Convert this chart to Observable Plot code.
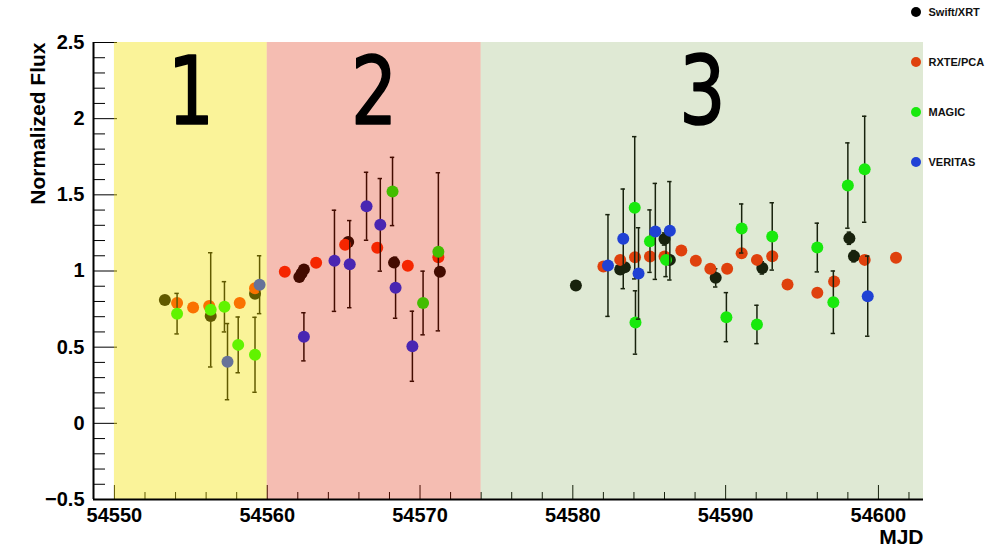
<!DOCTYPE html>
<html>
<head>
<meta charset="utf-8">
<script src="https://cdn.jsdelivr.net/npm/d3@7"></script>
<script src="https://cdn.jsdelivr.net/npm/@observablehq/plot@0.6"></script>
<style>
  body { margin: 0; background: #fff; }
  #wrap { position: relative; width: 1003px; height: 554px; font-family: "Liberation Sans", Arial, Helvetica, sans-serif; }
  #legend .li { position: absolute; display: flex; align-items: center; font-weight: bold; font-size: 11px; color: #111; white-space: nowrap; }
  #legend .d { width: 10px; height: 10px; border-radius: 50%; display: inline-block; margin-right: 8px; }
</style>
</head>
<body>
<div id="wrap"><div id="chart"></div><div id="legend"></div></div>
<script>
// ---------------- data ----------------
const instruments = ["Swift/XRT", "RXTE/PCA", "MAGIC", "VERITAS"];

const swiftMJD  = [54553.3, 54556.3, 54559.2, 54562.1, 54562.25, 54562.4, 54565.3, 54568.3, 54571.3, 54580.2, 54583.1, 54583.4, 54586.0, 54586.35, 54589.35, 54592.4, 54598.1, 54598.4];
const swiftFlux = [0.81, 0.705, 0.85, 0.96, 0.985, 1.01, 1.19, 1.055, 0.995, 0.905, 1.01, 1.025, 1.21, 1.073, 0.955, 1.02, 1.215, 1.097];
const swiftErr  = [0, 0.02, 0.02, 0.02, 0.02, 0.02, 0.02, 0.02, 0, 0, 0.02, 0.02, 0.04, 0.03, 0.06, 0.04, 0.04, 0.037];

const rxteMJD  = [54554.1, 54555.15, 54556.2, 54558.2, 54559.2, 54561.15, 54563.2, 54565.1, 54567.2, 54569.2, 54571.2, 54582.0, 54583.1, 54584.07, 54585.05, 54586.0, 54587.1, 54588.05, 54589.0, 54590.1, 54591.05, 54592.05, 54593.05, 54594.05, 54596.0, 54597.1, 54599.1, 54601.15];
const rxteFlux = [0.79, 0.76, 0.77, 0.79, 0.887, 0.995, 1.054, 1.172, 1.152, 1.034, 1.09, 1.03, 1.073, 1.09, 1.095, 1.095, 1.135, 1.067, 1.014, 1.014, 1.117, 1.073, 1.097, 0.911, 0.857, 0.931, 1.073, 1.087];
const rxteErr  = [0, 0, 0, 0, 0, 0, 0, 0, 0, 0.02, 0, 0, 0, 0, 0, 0, 0, 0, 0, 0, 0, 0, 0, 0, 0, 0, 0, 0];

const magicMJD  = [54554.1, 54556.3, 54557.2, 54558.1, 54559.2, 54568.2, 54570.2, 54571.2, 54584.05, 54584.1, 54585.05, 54586.1, 54590.05, 54591.05, 54592.05, 54593.05, 54596.0, 54597.05, 54598.0, 54599.1];
const magicFlux = [0.72, 0.745, 0.765, 0.515, 0.45, 1.522, 0.79, 1.126, 1.415, 0.662, 1.196, 1.073, 0.697, 1.279, 0.649, 1.227, 1.154, 0.795, 1.561, 1.668];
const magicErr  = [0.133, 0.375, 0.165, 0.183, 0.246, 0.224, 0.209, 0.519, 0.467, 0.208, 0.205, 0.11, 0.161, 0.161, 0.126, 0.221, 0.16, 0.205, 0.28, 0.348];

const veritasMJD  = [54557.4, 54559.5, 54562.4, 54564.4, 54565.4, 54566.5, 54567.4, 54568.4, 54569.5, 54582.3, 54583.3, 54584.3, 54585.4, 54586.35, 54599.3];
const veritasFlux = [0.405, 0.91, 0.568, 1.067, 1.045, 1.425, 1.303, 0.89, 0.506, 1.036, 1.211, 0.984, 1.26, 1.264, 0.835];
const veritasErr  = [0.25, 0.19, 0.158, 0.332, 0.286, 0.223, 0.304, 0.2, 0.23, 0.334, 0.327, 0.3, 0.315, 0.323, 0.263];

const regionStart  = [54550, 54560, 54574];
const regionEnd    = [54560, 54574, 54602.95];
const regionLabels = ["1", "2", "3"];

const xTicks = [54550, 54560, 54570, 54580, 54590, 54600];
const xTickLabels = ["54550", "54560", "54570", "54580", "54590", "54600"];
const yTicks = [-0.5, 0, 0.5, 1, 1.5, 2, 2.5];
const yTickLabels = ["\u22120.5", "0", "0.5", "1", "1.5", "2", "2.5"];

// ---------------- styles ----------------
const W = 1003, H = 554;
const mL = 93, mR = 80, mT = 42, mB = 55;
const xDomain = [54548.63, 54602.95];
const yDomain = [-0.5, 2.5];
const pxPerX = (W - mL - mR) / (xDomain[1] - xDomain[0]);
const pxPerY = (H - mT - mB) / (yDomain[1] - yDomain[0]);

const baseColors = ["#000000", "#ff2800", "#00ff00", "#0a28ff"];
const legendColors = ["#000000", "rgb(223,65,13)", "rgb(24,233,13)", "rgb(32,65,214)"];
const overlayColors = ["rgb(242,225,0)", "rgb(222,35,0)", "rgb(110,155,60)"];
const overlayOpacity = [0.4, 0.3, 0.22];

const series = [
  [swiftMJD, swiftFlux, swiftErr],
  [rxteMJD, rxteFlux, rxteErr],
  [magicMJD, magicFlux, magicErr],
  [veritasMJD, veritasFlux, veritasErr]
].map(([m, f, e], k) => m.map((x, i) => ({inst: instruments[k], x, y: f[i], e: e[i]})));

const regions = regionStart.map((s, i) => ({x1: s, x2: regionEnd[i], label: regionLabels[i], cx: (s + regionEnd[i]) / 2}));

const capHalf = 2.2 / pxPerX;
const font = '"Liberation Sans", Arial, Helvetica, sans-serif';

const marks = [];

// ticks (inward, drawn under overlays)
const xMinor = d3.range(54550, xDomain[1], 2).filter(v => !xTicks.includes(v));
marks.push(Plot.ruleX(xMinor, {x: d => d, y1: yDomain[0], y2: yDomain[0] + 7 / pxPerY, stroke: "#000", strokeWidth: 1}));
marks.push(Plot.ruleX(xTicks, {x: d => d, y1: yDomain[0], y2: yDomain[0] + 14 / pxPerY, stroke: "#000", strokeWidth: 1}));
const yMinor = d3.range(-5, 26).map(v => v / 10).filter(v => !yTicks.includes(v));
marks.push(Plot.ruleY(yMinor, {y: d => d, x1: xDomain[0], x2: xDomain[0] + 12 / pxPerX, stroke: "#000", strokeWidth: 1}));
marks.push(Plot.ruleY(yTicks, {y: d => d, x1: xDomain[0], x2: xDomain[0] + 24 / pxPerX, stroke: "#000", strokeWidth: 1}));

// data: error bars and markers per instrument
series.forEach((rows, k) => {
  const withErr = rows.filter(d => d.e > 0);
  marks.push(Plot.ruleX(withErr, {x: "x", y1: d => d.y - d.e, y2: d => d.y + d.e, stroke: "#000", strokeWidth: 1.5}));
  marks.push(Plot.ruleY(withErr, {y: d => d.y + d.e, x1: d => d.x - capHalf, x2: d => d.x + capHalf, stroke: "#000", strokeWidth: 1.5}));
  marks.push(Plot.ruleY(withErr, {y: d => d.y - d.e, x1: d => d.x - capHalf, x2: d => d.x + capHalf, stroke: "#000", strokeWidth: 1.5}));
  marks.push(Plot.dot(rows, {x: "x", y: "y", r: 6, fill: baseColors[k], stroke: "none"}));
});

// coloured period overlays
regions.forEach((r, i) => {
  marks.push(Plot.rect([r], {x1: "x1", x2: "x2", y1: yDomain[0], y2: yDomain[1], fill: overlayColors[i], fillOpacity: overlayOpacity[i]}));
});

// axes lines
marks.push(Plot.ruleY([yDomain[0]], {stroke: "#000", strokeWidth: 2}));
marks.push(Plot.ruleX([xDomain[0]], {y1: yDomain[0], y2: yDomain[1], stroke: "#000", strokeWidth: 2}));

// tick labels
marks.push(Plot.text(xTicks, {x: d => d, frameAnchor: "bottom", lineAnchor: "top", dy: 8, text: (d, i) => xTickLabels[i], fontSize: 20, fontWeight: "bold", fill: "#000"}));
marks.push(Plot.text(yTicks, {y: d => d, frameAnchor: "left", textAnchor: "end", dx: -9, text: (d, i) => yTickLabels[i], fontSize: 20, fontWeight: "bold", fill: "#000"}));

// axis titles
marks.push(Plot.text(["MJD"], {frameAnchor: "bottom-right", textAnchor: "end", lineAnchor: "top", dy: 30, fontSize: 21, fontWeight: "bold", fill: "#000"}));
marks.push(Plot.text(["Normalized Flux"], {frameAnchor: "top-left", rotate: -90, textAnchor: "end", dx: -63, fontSize: 21, fontWeight: "bold", fill: "#000"}));

// period labels
marks.push(Plot.text(regions, {x: "cx", text: "label", frameAnchor: "top", lineAnchor: "top", dy: 15, fontSize: 94, fontWeight: 500, fill: "#000",
  stroke: "#000", strokeWidth: 1.6,
  fontFamily: '"Liberation Sans Narrow", "DejaVu Sans Condensed", "Liberation Sans", sans-serif'}));

const chart = Plot.plot({
  width: W, height: H,
  marginLeft: mL, marginRight: mR, marginTop: mT, marginBottom: mB,
  x: {domain: xDomain, axis: null},
  y: {domain: yDomain, axis: null},
  style: {fontFamily: font, background: "transparent", overflow: "visible"},
  marks
});
// narrow the big period digits slightly (condensed look)
chart.querySelectorAll('g[font-size="94"] text').forEach(t => {
  const tr = t.getAttribute("transform") || "";
  t.setAttribute("transform", tr + " scale(0.86,1)");
});
document.getElementById("chart").appendChild(chart);

// legend (outside the svg marks, top right)
const legendY = [12, 62, 112, 162];
const leg = document.getElementById("legend");
instruments.forEach((name, k) => {
  const it = document.createElement("div");
  it.className = "li";
  it.style.left = "910.5px";
  it.style.top = (legendY[k] - 6) + "px";
  it.style.height = "12px";
  it.innerHTML = `<span class="d" style="background:${legendColors[k]}"></span><span>${name}</span>`;
  leg.appendChild(it);
});
</script>
</body>
</html>
